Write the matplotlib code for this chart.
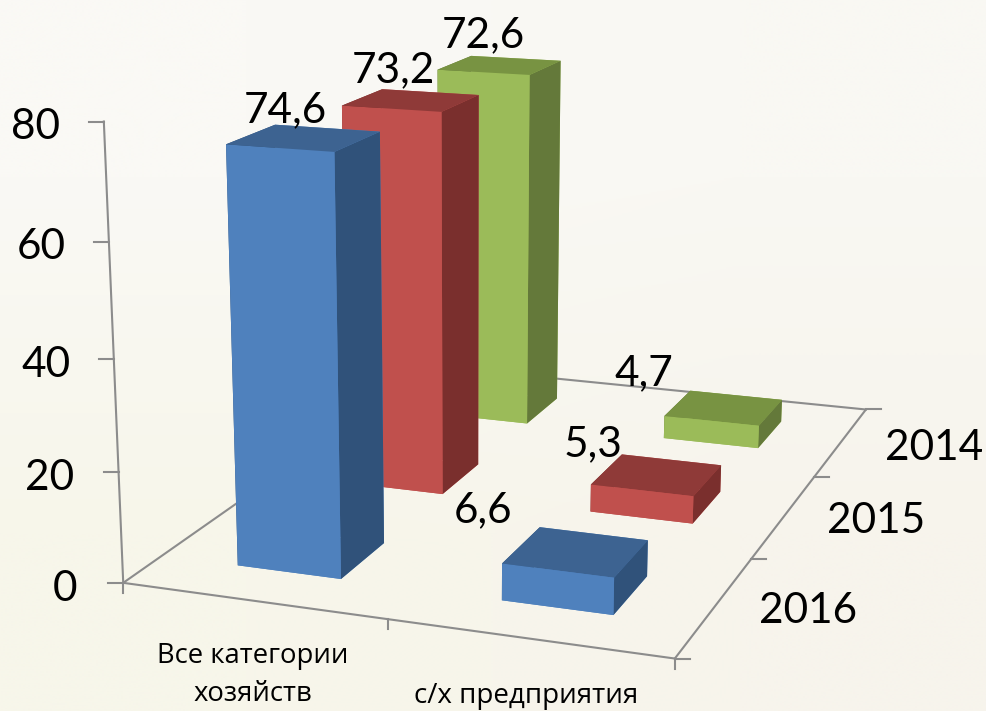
import matplotlib
matplotlib.use("Agg")
import matplotlib.pyplot as plt
from matplotlib.colors import to_rgb
from matplotlib.lines import Line2D
from mpl_toolkits.mplot3d import proj3d
import numpy as np

W, H = 987, 711

# data
years = ["2016", "2015", "2014"]
vals_all = [74.6, 73.2, 72.6]
vals_agro = [6.6, 5.3, 4.7]
cat_all = "Все категории\nхозяйств"
cat_agro = "с/х предприятия"
z_ticks = [0, 20, 40, 60, 80]

# front, top, side
colores = [("#4F81BD", "#3D6391", "#30527A"),
           ("#C0504D", "#8F3A38", "#7A2F2D"),
           ("#9BBB59", "#789342", "#64793A")]
GRIS = "#8C8C8C"

# camera, fitted against the picture
ELEV, AZIM, ROLL, FOCAL = 16.7934, -69.2649, 0.1194, 0.4716
XC, YC, ZC = 1.8863, -1.7483, 63.4239
LX, LY, LZ = 1.4529, 1.4477, 71.3387
CX, CY, SIDE = 435.9118, 432.8559, 987.0
BAR_W, BAR_D = 0.40, 0.40

fig = plt.figure(figsize=(W/100, H/100), dpi=100)

# background
bg = fig.add_axes([0, 0, 1, 1], zorder=0)
bg.set_axis_off()
esquinas = np.array([[to_rgb("#FAF9F5"), to_rgb("#F9F8F3")],
                     [to_rgb("#F7F6EA"), to_rgb("#F7F4EC")]])
bg.imshow(esquinas, aspect="auto", interpolation="bilinear")

ax = fig.add_axes([(CX-SIDE/2)/W, (H-CY-SIDE/2)/H, SIDE/W, SIDE/H],
                  projection="3d", computed_zorder=False, zorder=1)
ax.patch.set_alpha(0)
ax.set_box_aspect((1, 1, 1))
ax.view_init(ELEV, AZIM, ROLL)
ax.set_proj_type("persp", focal_length=FOCAL)
ax.set_axis_off()

# floor and axis lines
for p, q in [((0, 0, 0), (2, 0, 0)), ((2, 0, 0), (2, 3, 0)), ((2, 3, 0), (0, 3, 0)),
             ((0, 3, 0), (0, 0, 0)), ((0, 0, 0), (0, 0, z_ticks[-1]))]:
    ax.plot(*zip(p, q), color=GRIS, lw=1.5, zorder=1)

# bars, back row first
for i in [2, 1, 0]:
    c = colores[i]
    caras = [c[0], c[1], c[0], c[0], c[2], c[2]]
    for k, v in enumerate([vals_all[i], vals_agro[i]]):
        ax.bar3d(k+0.5-BAR_W/2, i+0.5-BAR_D/2, 0, BAR_W, BAR_D, v, color=caras,
                 shade=False, zorder=10-i, linewidth=0.3)

ax.set_xlim(XC-LX/2, XC+LX/2, view_margin=0)
ax.set_ylim(YC-LY/2, YC+LY/2, view_margin=0)
ax.set_zlim(ZC-LZ/2, ZC+LZ/2, view_margin=0)
ax.apply_aspect()
M = ax.get_proj()


def to_px(x, y, z):
    tx, ty, _ = proj3d.proj_transform(x, y, z, M)
    return ax.transData.transform((tx, ty))


def tick(x, y, z, dx, dy):
    a = to_px(x, y, z)
    fig.add_artist(Line2D([a[0], a[0]+dx], [a[1], a[1]+dy], color=GRIS, lw=1.5,
                          transform=None))


for v in z_ticks:
    tick(0, 0, v, -15, 0)
tick(0, 0, 0, 0, -10)
tick(1, 0, 0, 0, -10)
tick(2, 0, 0, 0, -10)
for j in [0, 1, 2, 3]:
    tick(2, j, 0, 15, 0)


def label(x, y, s, size=30.5, family="Lato", **kw):
    fig.text(x/W, 1-y/H, s, fontsize=size, family=family, ha="center", va="center",
             zorder=5, **kw)


for s, x, y in zip(z_ticks, [65, 50, 46, 41, 36], [589, 478, 365, 247, 127]):
    label(x, y, str(s))
for i, x, y in zip(range(3), [808, 876, 934], [611, 521, 448]):
    label(x, y, years[i])
for v, x, y in zip(vals_all, [285, 393, 483], [110, 70, 35]):
    label(x, y, f"{v:.1f}".replace(".", ","))
for v, x, y in zip(vals_agro, [483, 593, 644], [510, 444, 373]):
    label(x, y, f"{v:.1f}".replace(".", ","))
label(253, 675, cat_all, size=19.8, family="Open Sans", linespacing=1.5)
label(526, 696, cat_agro, size=20, family="Open Sans")

fig.savefig("out.png", dpi=100)
